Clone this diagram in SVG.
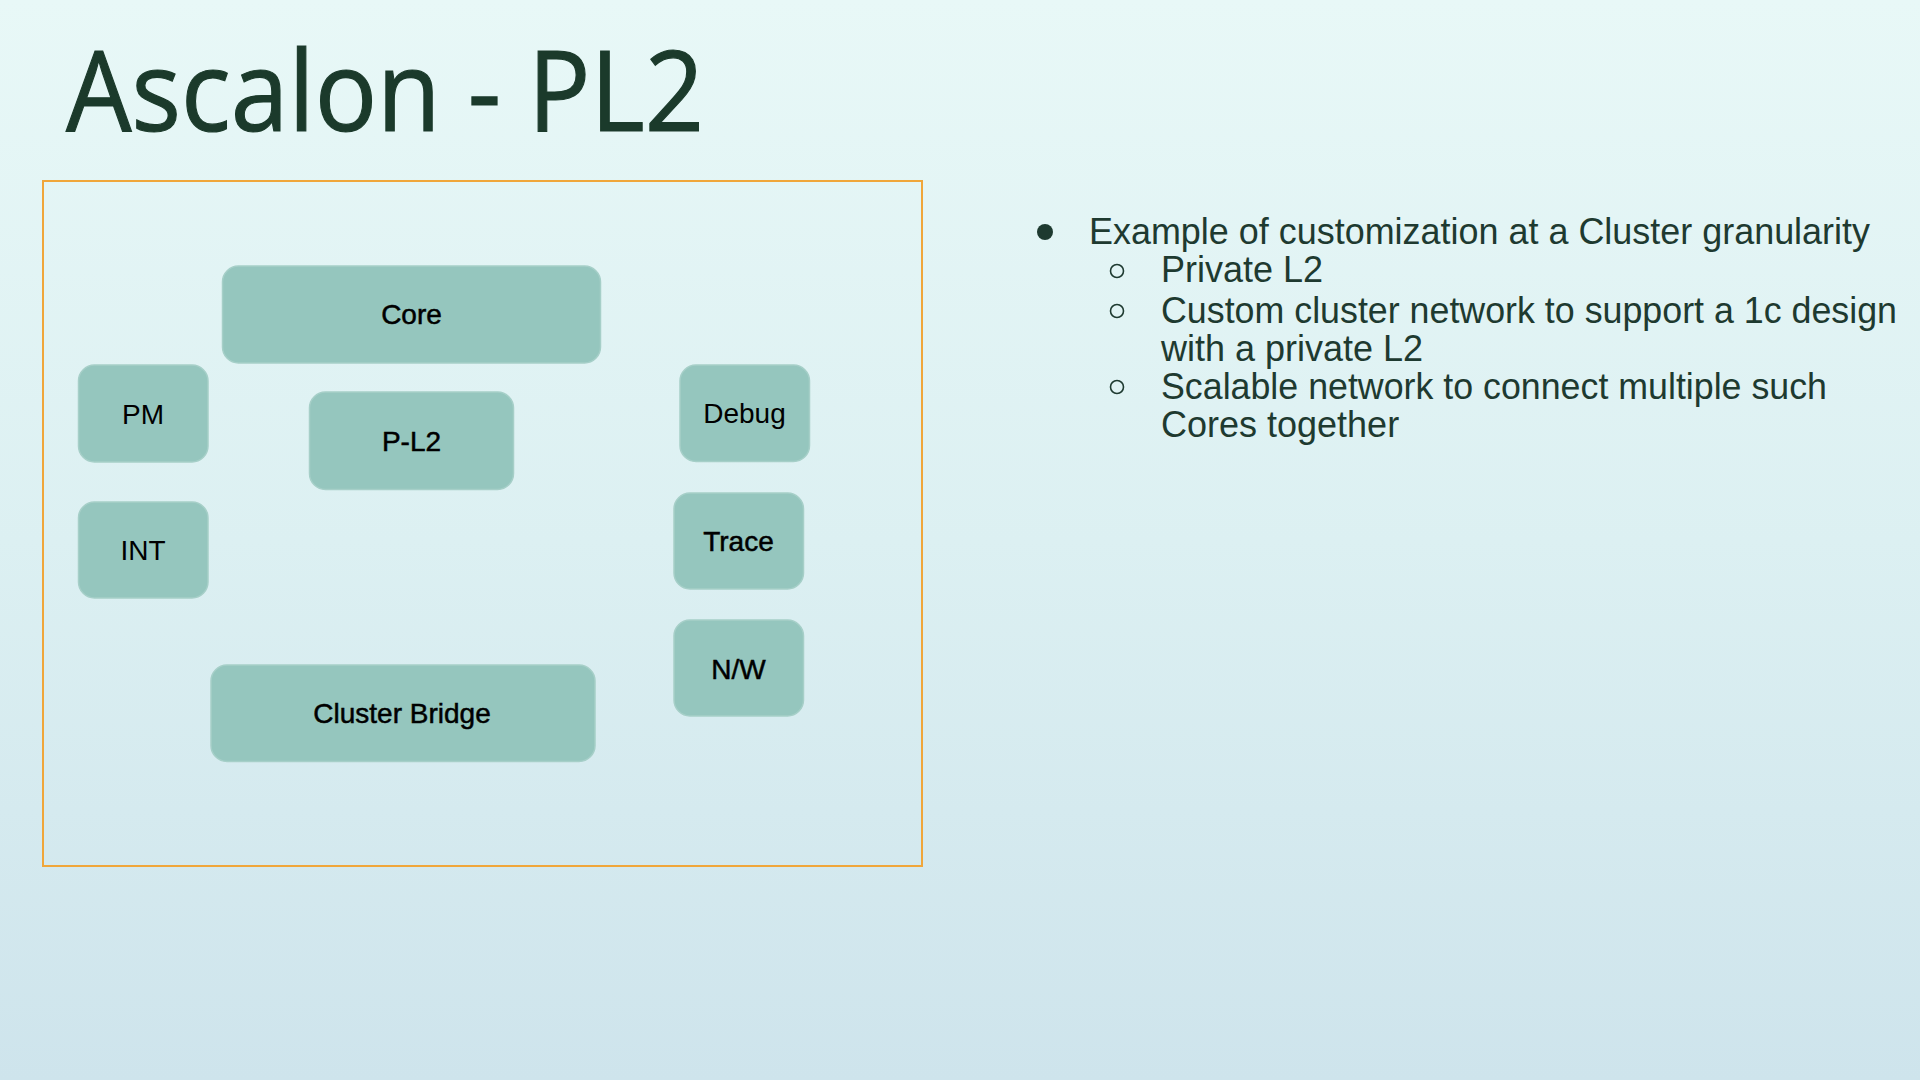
<svg xmlns="http://www.w3.org/2000/svg" width="1920" height="1080" viewBox="0 0 1920 1080">
  <defs>
    <linearGradient id="bg" x1="0" y1="0" x2="0" y2="1">
      <stop offset="0" stop-color="#e8f8f7"/>
      <stop offset="0.5" stop-color="#dcf0f2"/>
      <stop offset="1" stop-color="#cee4ec"/>
    </linearGradient>
  </defs>
  <style>
    .box { fill: #95c6be; stroke: #a6cfc8; stroke-width: 1.5; }
    .lbl { font-family: "Liberation Sans", Arial, sans-serif; font-size: 28px; fill: #000; text-anchor: middle; }
    .strong { stroke: #000; stroke-width: 0.5; }
    .title { font-family: "Open Sans", "Noto Sans", sans-serif; font-size: 112px; fill: #1b3a2b; stroke: #1b3a2b; stroke-width: 1.2; }
    .body { font-family: "Liberation Sans", Arial, sans-serif; font-size: 36px; fill: #1e3a30; }
    .frame { fill: none; stroke: #f0a63a; stroke-width: 2; }
  </style>
  <rect x="0" y="0" width="1920" height="1080" fill="url(#bg)"/>

  <text class="title" x="66" y="131" textLength="638" lengthAdjust="spacingAndGlyphs">Ascalon - PL2</text>

  <rect class="frame" x="43" y="181" width="879" height="685"/>

  <g id="connectors"></g>

  <g id="core">
    <rect class="box" x="222.5" y="266" width="378" height="97" rx="16"/>
    <text class="lbl strong" x="411.5" y="324">Core</text>
  </g>
  <g id="pm">
    <rect class="box" x="78.5" y="365" width="129.5" height="97" rx="16"/>
    <text class="lbl" x="143" y="424">PM</text>
  </g>
  <g id="pl2">
    <rect class="box" x="309.5" y="392" width="204" height="97.5" rx="16"/>
    <text class="lbl strong" x="411.5" y="451">P-L2</text>
  </g>
  <g id="debug">
    <rect class="box" x="680" y="365" width="129.5" height="96.5" rx="16"/>
    <text class="lbl" x="744.5" y="423">Debug</text>
  </g>
  <g id="int">
    <rect class="box" x="78.5" y="502" width="129.5" height="96" rx="16"/>
    <text class="lbl" x="143" y="560">INT</text>
  </g>
  <g id="trace">
    <rect class="box" x="674" y="493" width="129.5" height="96" rx="16"/>
    <text class="lbl strong" x="738.5" y="550.5">Trace</text>
  </g>
  <g id="nw">
    <rect class="box" x="674" y="620" width="129.5" height="96" rx="16"/>
    <text class="lbl strong" x="738.5" y="678.5">N/W</text>
  </g>
  <g id="cluster-bridge">
    <rect class="box" x="211" y="665" width="384" height="96.5" rx="16"/>
    <text class="lbl strong" x="402" y="722.5">Cluster Bridge</text>
  </g>

  <g id="bullets">
    <circle cx="1045" cy="232" r="8" fill="#1e3a30"/>
    <text class="body" x="1089" y="244" textLength="781" lengthAdjust="spacingAndGlyphs">Example of customization at a Cluster granularity</text>
    <circle cx="1117" cy="271" r="6.5" fill="none" stroke="#1e3a30" stroke-width="1.6"/>
    <text class="body" x="1161" y="282">Private L2</text>
    <circle cx="1117" cy="311" r="6.5" fill="none" stroke="#1e3a30" stroke-width="1.6"/>
    <text class="body" x="1161" y="322.5" textLength="736" lengthAdjust="spacingAndGlyphs">Custom cluster network to support a 1c design</text>
    <text class="body" x="1161" y="361">with a private L2</text>
    <circle cx="1117" cy="387" r="6.5" fill="none" stroke="#1e3a30" stroke-width="1.6"/>
    <text class="body" x="1161" y="398.5" textLength="666" lengthAdjust="spacingAndGlyphs">Scalable network to connect multiple such</text>
    <text class="body" x="1161" y="437">Cores together</text>
  </g>
</svg>
